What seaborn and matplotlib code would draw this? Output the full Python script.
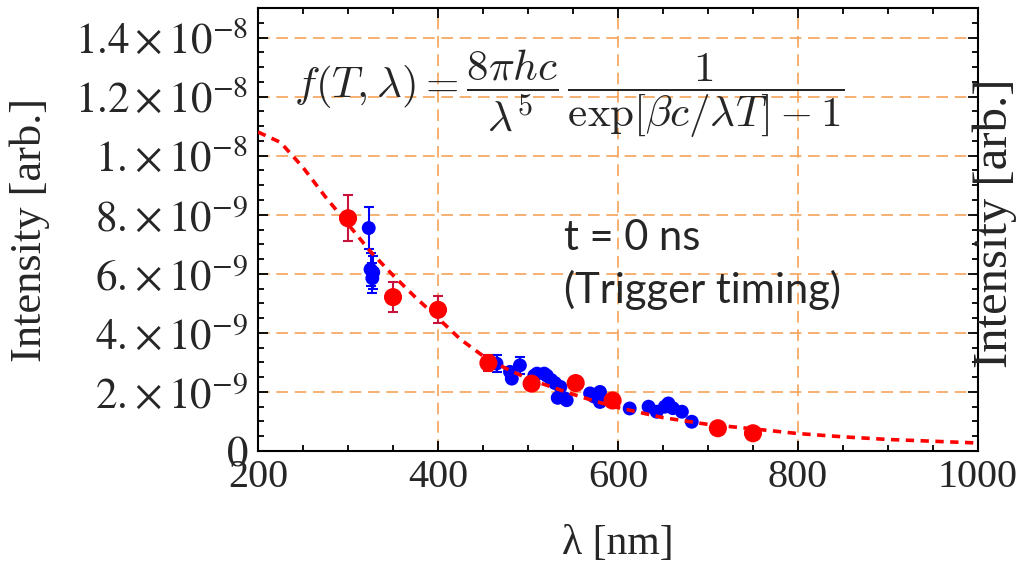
import numpy as np
import pandas as pd
import matplotlib
matplotlib.use("Agg")
import matplotlib.pyplot as plt
import seaborn as sns
from matplotlib.ticker import MultipleLocator, FixedLocator, FixedFormatter

# ---------------- data (intensity in units of 1e-9) ----------------
curve_wl = [200, 225, 250, 275, 300, 325, 350, 375, 400, 425, 450, 475, 500,
            525, 550, 575, 600, 625, 650, 700, 750, 800, 850, 900, 950, 1000]
curve_I = [10.8, 10.45, 9.6, 8.6, 7.68, 6.75, 5.95, 5.2, 4.5, 3.78, 3.22, 2.8,
           2.45, 2.18, 1.92, 1.68, 1.47, 1.30, 1.13, 0.90, 0.75, 0.59, 0.48,
           0.39, 0.33, 0.27]

red_wl = [300, 350, 400, 456, 504, 553, 594, 711, 750]
red_I = [7.88, 5.21, 4.78, 2.98, 2.28, 2.30, 1.71, 0.77, 0.60]
red_err = [0.78, 0.52, 0.46, 0.28, 0.10, 0.10, 0.10, 0.08, 0.06]

blue_wl = [323, 325, 327, 328, 465, 480, 482, 491, 507, 510, 518, 521, 526,
           530, 533, 536, 541, 543, 569, 573, 580, 580, 613, 634, 643, 652,
           656, 661, 671, 682]
blue_I = [7.55, 6.15, 5.85, 6.05, 2.96, 2.68, 2.45, 2.90, 2.55, 2.62, 2.62,
          2.55, 2.40, 2.30, 1.80, 2.17, 1.78, 1.72, 1.95, 1.85, 2.00, 1.66,
          1.44, 1.50, 1.33, 1.50, 1.61, 1.45, 1.33, 0.99]
blue_err = [0.72, 0.55, 0.50, 0.55, 0.28, 0.12, 0.12, 0.28, 0.12, 0.12, 0.12,
            0.12, 0.12, 0.12, 0.10, 0.12, 0.10, 0.10, 0.10, 0.10, 0.10, 0.10,
            0.08, 0.08, 0.08, 0.08, 0.08, 0.08, 0.08, 0.06]

x_ticks = [200, 400, 600, 800, 1000]
x_tick_labels = ["200", "400", "600", "800", "1000"]
y_ticks = [0, 2, 4, 6, 8, 10, 12, 14]
y_tick_labels = ["$0$", r"$2.\!\times10^{-9}$", r"$4.\!\times10^{-9}$",
                 r"$6.\!\times10^{-9}$", r"$8.\!\times10^{-9}$",
                 r"$1.\!\times10^{-8}$", r"$1.2\times10^{-8}$",
                 r"$1.4\times10^{-8}$"]
SCALE = 1e-9

# ---------------- style ----------------
sns.set_theme(style="ticks")
plt.rcParams["font.family"] = ["Liberation Serif", "DejaVu Serif"]
plt.rcParams["mathtext.fontset"] = "stix"

grid_color = "#F5A35A"
red = "#FF0000"
err_red = "#C8143C"
blue = "#0000FF"

fig = plt.figure(figsize=(10.24, 5.65), dpi=100)
ax = fig.add_axes([0.252, 0.2018, 0.703, 0.784])

curve_df = pd.DataFrame({"wl": curve_wl, "I": np.array(curve_I) * SCALE})
red_df = pd.DataFrame({"wl": red_wl, "I": np.array(red_I) * SCALE,
                       "err": np.array(red_err) * SCALE})
blue_df = pd.DataFrame({"wl": blue_wl, "I": np.array(blue_I) * SCALE,
                        "err": np.array(blue_err) * SCALE})

# grid
for xv in [400, 600, 800]:
    ax.axvline(xv, color=grid_color, lw=1.2, ls=(0, (7, 4)), zorder=0)
for yv in y_ticks[1:]:
    ax.axhline(yv * SCALE, color=grid_color, lw=1.2, ls=(0, (7, 4)), zorder=0)

# blue points
ax.errorbar(blue_df["wl"], blue_df["I"], yerr=blue_df["err"], fmt="none",
            ecolor=blue, elinewidth=1.5, capsize=3.6, capthick=1.5, zorder=2)
sns.scatterplot(data=blue_df, x="wl", y="I", ax=ax, color=blue, s=100,
                edgecolor="none", zorder=3, legend=False)

# red points
ax.errorbar(red_df["wl"], red_df["I"], yerr=red_df["err"], fmt="none",
            ecolor=err_red, elinewidth=1.5, capsize=3.6, capthick=1.5, zorder=4)
sns.scatterplot(data=red_df, x="wl", y="I", ax=ax, color=red, s=170,
                edgecolor="none", zorder=5, legend=False)

# fitted curve
sns.lineplot(data=curve_df, x="wl", y="I", ax=ax, color=red, lw=2.6,
             dashes=False, zorder=6, sort=True)
ax.lines[-1].set_dashes((2.3, 1.8))

ax.set_xlim(200, 1000)
ax.set_ylim(0, 1.5e-8)

ax.xaxis.set_major_locator(FixedLocator(x_ticks))
ax.xaxis.set_major_formatter(FixedFormatter(x_tick_labels))
ax.xaxis.set_minor_locator(MultipleLocator(50))
ax.yaxis.set_major_locator(FixedLocator([v * SCALE for v in y_ticks]))
ax.yaxis.set_major_formatter(FixedFormatter(y_tick_labels))
ax.yaxis.set_minor_locator(MultipleLocator(0.5 * SCALE))

ax.tick_params(which="both", direction="in", top=True, right=True,
               color="black", width=1.3)
ax.tick_params(which="major", length=7)
ax.tick_params(which="minor", length=4)
ax.tick_params(axis="x", which="major", labelsize=29, pad=6)
ax.tick_params(axis="y", which="major", labelsize=31, pad=7)
for sp in ax.spines.values():
    sp.set_color("black")
    sp.set_linewidth(1.5)

ax.set_xlabel("λ [nm]", fontsize=30)
ax.xaxis.set_label_coords(0.5, -0.21)
ax.xaxis.label.set_verticalalignment("center")
ax.set_ylabel("Intensity [arb.]", fontsize=32)
ax.yaxis.set_label_coords(-0.317, 0.5)
ax.yaxis.label.set_verticalalignment("center")

ax.text(1.0236, 0.515, "Intensity [arb.]", transform=ax.transAxes,
        rotation=90, ha="center", va="center", fontsize=35)

ax.text(240, 1.21e-8,
        r"$f(T,\lambda) = \dfrac{8\pi hc}{\lambda^5}\,\dfrac{1}{\exp[\beta c/\lambda T]-1}$",
        fontsize=31, math_fontfamily="cm", ha="left", va="center", zorder=7)

ax.text(540, 7.2e-9, "t = 0 ns", family=["Lato", "DejaVu Sans"],
        fontsize=30, ha="left", va="center", zorder=7)
ax.text(540, 5.45e-9, "(Trigger timing)", family=["Lato", "DejaVu Sans"],
        fontsize=30, ha="left", va="center", zorder=7)

fig.savefig("out.png", dpi=100)
